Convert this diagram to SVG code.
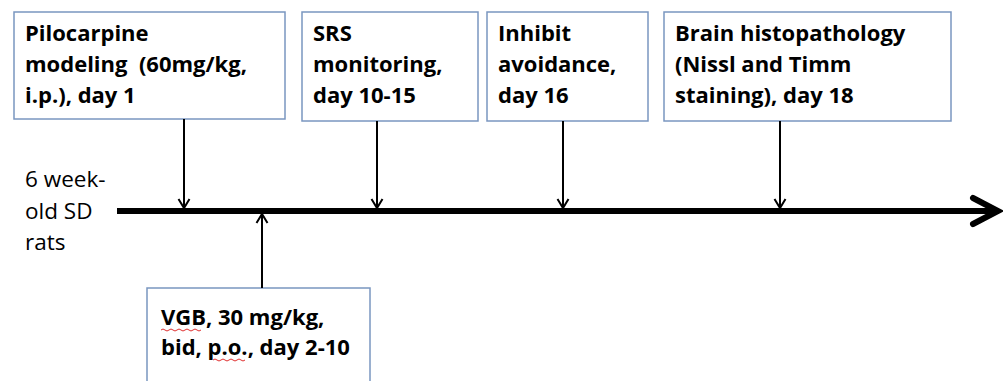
<svg xmlns="http://www.w3.org/2000/svg" width="1003" height="381" viewBox="0 0 1003 381">
<defs>
<marker id="chev" markerWidth="14" markerHeight="14" refX="11" refY="7" orient="auto" markerUnits="userSpaceOnUse">
<polyline points="2,1.5 11,7 2,12.5" fill="none" stroke="#000" stroke-width="2"/>
</marker>
<style>
.box{fill:#fff;stroke:#7a96c0;stroke-width:1.5}
.t{font-family:"Open Sans","Liberation Sans",sans-serif;font-weight:bold;font-size:22px;fill:#000}
.r{font-family:"Open Sans","Liberation Sans",sans-serif;font-size:22.5px;fill:#000}
.c{stroke:#000;stroke-width:2;fill:none}
.sq{stroke:#e03030;stroke-width:1;fill:none}
</style>
</defs>
<rect width="1003" height="381" fill="#fff"/>
<g id="label-rats">
<text class="r" x="25" y="187">6 week-</text>
<text class="r" x="25" y="219">old SD</text>
<text class="r" x="25" y="250">rats</text>
</g>
<g id="node-pilocarpine">
<rect class="box" x="14" y="12" width="271" height="107"/>
<text class="t" x="25" y="41">Pilocarpine</text>
<text class="t" x="25" y="72" xml:space="preserve">modeling  (60mg/kg,</text>
<text class="t" x="25" y="103">i.p.), day 1</text>
</g>
<g id="node-srs">
<rect class="box" x="302" y="12" width="176" height="109"/>
<text class="t" x="313" y="41">SRS</text>
<text class="t" x="313" y="72">monitoring,</text>
<text class="t" x="313" y="103">day 10-15</text>
</g>
<g id="node-inhibit">
<rect class="box" x="487" y="12" width="161" height="109"/>
<text class="t" x="498" y="41">Inhibit</text>
<text class="t" x="498" y="72">avoidance,</text>
<text class="t" x="498" y="103">day 16</text>
</g>
<g id="node-brain">
<rect class="box" x="664" y="12" width="287" height="109"/>
<text class="t" x="675" y="41">Brain histopathology</text>
<text class="t" x="675" y="72">(Nissl and Timm</text>
<text class="t" x="675" y="103">staining), day 18</text>
</g>
<g id="node-vgb">
<rect class="box" x="147" y="288" width="223" height="100"/>
<text class="t" x="161" y="325">VGB, 30 mg/kg,</text>
<text class="t" x="161" y="355">bid, p.o., day 2-10</text>
<path class="sq" d="M161,330 q2,-2 4,0 t4,0 t4,0 t4,0 t4,0 t4,0 t4,0 t4,0 t4,0 t4,0"/>
<path class="sq" d="M213,360 q2,-2 4,0 t4,0 t4,0 t4,0 t4,0 t4,0 t4,0 t4,0"/>
</g>
<g id="connectors">
<line x1="117" y1="211" x2="997" y2="211" stroke="#000" stroke-width="6"/>
<polyline points="973,198 998,211 973,224" fill="none" stroke="#000" stroke-width="6" stroke-linecap="round" stroke-linejoin="miter"/>
<line class="c" x1="184" y1="119" x2="184" y2="208" marker-end="url(#chev)"/>
<line class="c" x1="377" y1="121" x2="377" y2="208" marker-end="url(#chev)"/>
<line class="c" x1="563" y1="121" x2="563" y2="208" marker-end="url(#chev)"/>
<line class="c" x1="780" y1="121" x2="780" y2="208" marker-end="url(#chev)"/>
<line class="c" x1="262" y1="288" x2="262" y2="214" marker-end="url(#chev)"/>
</g>
</svg>
